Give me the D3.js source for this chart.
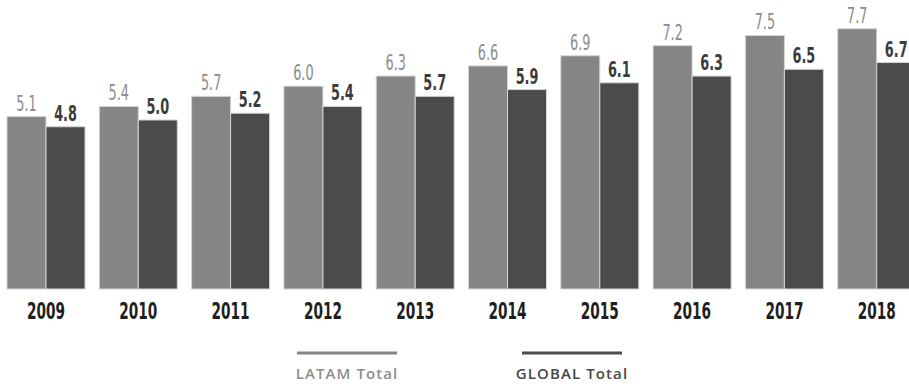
<!DOCTYPE html>
<html>
<head>
<meta charset="utf-8">
<script src="https://cdn.jsdelivr.net/npm/d3@7"></script>
<style>
  html, body { margin: 0; padding: 0; background: #fff; }
  svg { display: block; }
  .num { font-family: "Liberation Sans Narrow", "DejaVu Sans Condensed", sans-serif; }
  .legend { font-family: "Open Sans", "Lato", sans-serif; font-weight: 600; }
</style>
</head>
<body>
<svg id="chart" width="909" height="384"></svg>
<script>
const years = ["2009", "2010", "2011", "2012", "2013", "2014", "2015", "2016", "2017", "2018"];
const seriesNames = ["LATAM Total", "GLOBAL Total"];
const latam = [5.1, 5.4, 5.7, 6.0, 6.3, 6.6, 6.9, 7.2, 7.5, 7.7];
const global = [4.8, 5.0, 5.2, 5.4, 5.7, 5.9, 6.1, 6.3, 6.5, 6.7];

const fills = ["#858585", "#4b4b4b"];
const labelColors = ["#8c8c8c", "#3c3c3c"];

const svg = d3.select("#chart");
const baseY = 289;

const x = d3.scaleBand().domain(years).range([7, 915.7]).paddingInner(0.155).paddingOuter(0);
const xs = d3.scaleBand().domain(seriesNames).range([0, x.bandwidth()]);
const y = d3.scaleLinear().domain([0, 8.55]).range([baseY, 0]);

const rows = years.map((yr, i) => ({ year: yr, values: [latam[i], global[i]] }));

const groups = svg.append("g").selectAll("g")
  .data(rows).join("g")
  .attr("transform", d => `translate(${x(d.year)},0)`);

groups.selectAll("rect")
  .data(d => d.values.map((v, k) => ({ v, k })))
  .join("rect")
  .attr("x", d => xs(seriesNames[d.k]))
  .attr("y", d => y(d.v))
  .attr("width", xs.bandwidth())
  .attr("height", d => baseY - y(d.v))
  .attr("fill", d => fills[d.k])
  .attr("stroke", "#d4d4d4")
  .attr("stroke-width", 1);

// value labels above each bar
groups.selectAll("text.val")
  .data(d => d.values.map((v, k) => ({ v, k })))
  .join("text")
  .attr("class", "val num")
  .attr("transform", d => `translate(${xs(seriesNames[d.k]) + xs.bandwidth() / 2},${y(d.v) - 6}) scale(0.68,1)`)
  .attr("text-anchor", "middle")
  .attr("font-size", 21)
  .attr("font-weight", d => d.k === 1 ? 700 : 400)
  .attr("fill", d => labelColors[d.k])
  .text(d => d3.format(".1f")(d.v));

// year axis labels
const xAxis = d3.axisBottom(x).tickSize(0).tickPadding(0);
const ax = svg.append("g").attr("transform", `translate(0,${baseY})`).call(xAxis);
ax.select(".domain").remove();
ax.selectAll("text")
  .attr("class", "num")
  .attr("y", 0)
  .attr("dy", 0)
  .attr("transform", "translate(0,30) scale(0.66,1)")
  .attr("font-size", 23)
  .attr("font-weight", 700)
  .attr("fill", "#1e1e1e");

// legend
const legendX = [347, 572];
const legend = svg.append("g").selectAll("g")
  .data(seriesNames).join("g")
  .attr("transform", (d, i) => `translate(${legendX[i]},0)`);
legend.append("line")
  .attr("x1", -50).attr("x2", 50)
  .attr("y1", 353).attr("y2", 353)
  .attr("stroke", (d, i) => fills[i])
  .attr("stroke-width", 3);
legend.append("text")
  .attr("class", "legend")
  .attr("y", 379)
  .attr("text-anchor", "middle")
  .attr("font-size", 15)
  .attr("letter-spacing", 1.1)
  .attr("fill", (d, i) => i === 0 ? "#8e8e8e" : "#474747")
  .text(d => d);
</script>
</body>
</html>
